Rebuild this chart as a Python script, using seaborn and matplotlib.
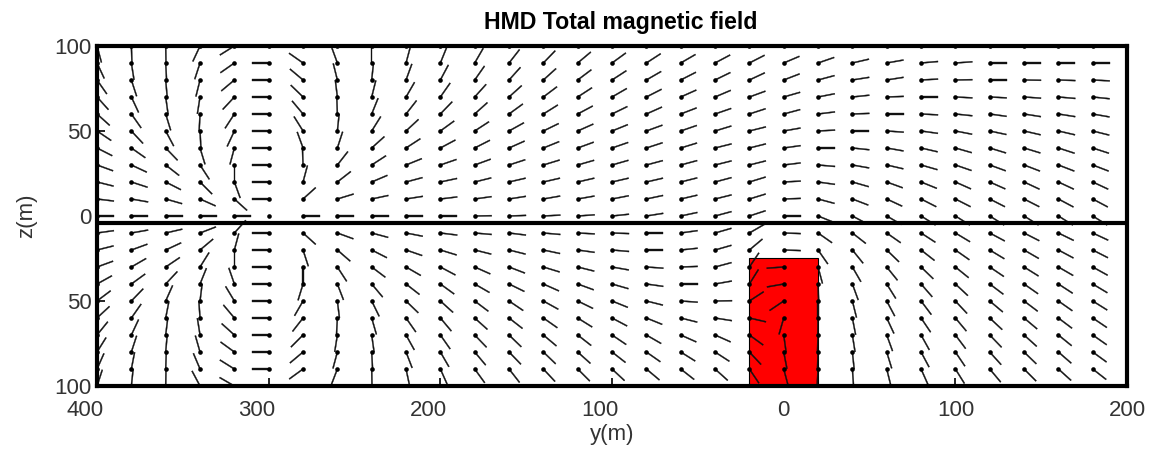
import matplotlib
matplotlib.use("Agg")
import matplotlib.pyplot as plt
import matplotlib.transforms as mtransforms
from matplotlib.patches import Rectangle
import numpy as np
import pandas as pd
import seaborn as sns

sns.set_theme(style="white")
plt.rcParams["font.family"] = ["Liberation Sans", "DejaVu Sans"]

# grid of field points (m)
y_positions = [-400, -380, -360, -340, -320, -300, -280, -260, -240, -220,
               -200, -180, -160, -140, -120, -100, -80, -60, -40, -20,
               0, 20, 40, 60, 80, 100, 120, 140, 160, 180]
z_levels = [100, 90, 80, 70, 60, 50, 40, 30, 20, 10, 0,
            -10, -20, -30, -40, -50, -60, -70, -80, -90, -100]

# field direction in degrees (0 = +y, 90 = up), one list per column, top to bottom
dir_m400 = [-75, -65, -55, -48, -42, -34, -27, -20, -14, -7, 0, 8, 14, 20, 29, 37, 43, 51, 58, 66, 72]
dir_m380 = [-88, -81, -72, -65, -55, -47, -35, -25, -18, -10, 0, 10, 20, 30, 36, 46, 55, 65, 72, 79, 84]
dir_m360 = [-89, -87, -85, -82, -73, -62, -46, -38, -27, -16, 0, 13, 25, 34, 47, 66, 79, 83, 85, 88, 89]
dir_m340 = [-115, -108, -104, -99, -93, -87, -73, -57, -45, -24, 0, 21, 40, 58, 68, 83, 94, 99, 106, 113, 118]
dir_m320 = [-148, -145, -140, -133, -123, -115, -105, -90, -70, -42, 0, 48, 75, 90, 109, 121, 130, 138, 144, 148, 150]
dir_m300 = [180, 180, 180, 180, 180, 180, 180, 180, 180, 180, np.nan, 180, 180, 180, 180, 180, 180, 180, 180, 180, 180]
dir_m280 = [148, 145, 140, 136, 130, 122, 110, 92, 75, 42, 0, -42, -72, -90, -107, -120, -128, -135, -140, -144, -147]
dir_m260 = [112, 110, 104, 97, 92, 84, 72, 52, 38, 17, 0, -20, -41, -57, -69, -83, -93, -99, -105, -111, -118]
dir_m240 = [92, 90, 84, 76, 68, 58, 42, 33, 23, 12, 0, -15, -27, -37, -50, -64, -74, -82, -87, -89, -90]
dir_m220 = [82, 75, 70, 60, 52, 43, 33, 22, 15, 9, 0, -11, -19, -30, -38, -44, -55, -61, -69, -78, -84]
dir_m200 = [74, 68, 62, 55, 46, 36, 28, 19, 12, 7, 0, -7, -17, -28, -36, -42, -50, -55, -60, -66, -72]
dir_m180 = [64, 60, 55, 48, 42, 33, 27, 20, 14, 8, 1, -5, -14, -24, -30, -37, -42, -46, -50, -54, -58]
dir_m160 = [56, 52, 48, 42, 36, 29, 24, 18, 13, 9, 2, -7, -14, -21, -26, -34, -38, -44, -46, -52, -56]
dir_m140 = [50, 46, 42, 37, 32, 26, 22, 17, 13, 10, 3, -5, -12, -17, -24, -29, -35, -40, -44, -47, -50]
dir_m120 = [44, 40, 37, 33, 28, 24, 20, 16, 13, 10, 4, -3, -8, -14, -20, -26, -32, -38, -42, -45, -48]
dir_m100 = [40, 36, 33, 30, 26, 22, 19, 16, 13, 11, 6, -2, -5, -10, -16, -22, -28, -34, -38, -43, -46]
dir_m080 = [36, 33, 30, 27, 24, 20, 18, 15, 13, 12, 9, 0, 0, -4, -8, -14, -22, -30, -35, -40, -43]
dir_m060 = [33, 30, 27, 24, 21, 19, 17, 15, 14, 13, 12, 8, 6, 2, 0, -4, -14, -24, -32, -38, -42]
dir_m040 = [30, 28, 26, 23, 19, 17, 14, 14, 15, 14, 15, 16, 16, 15, 10, 1, -9, -24, -33, -42, -50]
dir_m020 = [29, 27, 25, 20, 18, 14, 14, 14, 17, 17, 18, 30, 40, 56, 58, 33, -13, -36, -47, -56, -62]
dir_p000 = [25, 23, 21, 16, 15, 10, 8, 7, 3, 2, 0, -2, -2, 184, 190, 214, 254, 278, 281, 285, 287]
dir_p020 = [22, 19, 15, 11, 7, 3, 0, -5, -8, -15, -22, -35, -55, -75, -88, -90, -91, -92, -92, -93, -93]
dir_p040 = [16, 13, 9, 6, 2, 0, -6, -10, -16, -21, -28, -38, -51, -60, -70, -76, -79, -81, -84, -86, -87]
dir_p060 = [12, 10, 9, 2, 0, -4, -10, -13, -20, -25, -30, -35, -44, -51, -58, -62, -65, -70, -73, -76, -78]
dir_p080 = [7, 5, 3, 0, -3, -8, -13, -16, -22, -27, -32, -33, -38, -44, -49, -53, -56, -61, -62, -66, -68]
dir_p100 = [5, 4, 1, -3, -6, -11, -16, -19, -24, -27, -32, -31, -35, -39, -43, -47, -50, -53, -56, -58, -60]
dir_p120 = [2, 0, 0, -3, -8, -12, -17, -20, -24, -27, -32, -28, -31, -34, -37, -40, -43, -46, -48, -50, -52]
dir_p140 = [1, 0, -1, -4, -9, -13, -17, -21, -25, -27, -32, -27, -30, -32, -35, -37, -40, -42, -44, -45, -47]
dir_p160 = [1, 0, -2, -5, -9, -13, -18, -21, -25, -28, -32, -26, -28, -30, -33, -35, -37, -39, -41, -42, -44]
dir_p180 = [1, 0, -3, -6, -10, -14, -18, -21, -25, -28, -32, -25, -27, -29, -31, -32, -34, -35, -36, -38, -40]

columns = [dir_m400, dir_m380, dir_m360, dir_m340, dir_m320, dir_m300, dir_m280, dir_m260,
           dir_m240, dir_m220, dir_m200, dir_m180, dir_m160, dir_m140, dir_m120, dir_m100,
           dir_m080, dir_m060, dir_m040, dir_m020, dir_p000, dir_p020, dir_p040, dir_p060,
           dir_p080, dir_p100, dir_p120, dir_p140, dir_p160, dir_p180]

# conductive body and interface
body_y = [-20, 20]
body_z = [-100, -25]
interface_z = -4

x_ticks = [-400, -300, -200, -100, 0, 100, 200]
x_ticklabels = ["400", "300", "200", "100", "0", "100", "200"]
z_ticks = [100, 50, 0, -50, -100]
z_ticklabels = ["100", "50", "0", "50", "100"]

records = []
for y, col in zip(y_positions, columns):
    for z, ang in zip(z_levels, col):
        records.append({"y": y, "z": z, "angle": ang})
df = pd.DataFrame(records)
seg = df.dropna(subset=["angle"])
u = np.cos(np.deg2rad(seg["angle"].to_numpy()))
v = np.sin(np.deg2rad(seg["angle"].to_numpy()))

fig, ax = plt.subplots(figsize=(11.51, 4.49), dpi=100)
fig.subplots_adjust(left=0.0843, right=0.9792, bottom=0.1403, top=0.8976)

ax.add_patch(Rectangle((body_y[0], body_z[0]), body_y[1] - body_y[0], body_z[1] - body_z[0],
                       facecolor="#ff0000", edgecolor="black", linewidth=0.8, zorder=1))

ax.quiver(seg["y"], seg["z"], u, v, pivot="tail", angles="uv", scale_units="inches",
          scale=1 / 0.17, units="dots", width=1.2, headwidth=0, headlength=0,
          headaxislength=0, minlength=0, color="#111111", linewidth=0.25,
          edgecolor="#111111", antialiased=True, zorder=3)
sns.scatterplot(data=df, x="y", y="z", color="black", s=11, linewidth=0, ax=ax, zorder=4)

ax.axhline(interface_z, color="black", linewidth=3, zorder=5)

ax.set_xlim(-400, 200)
ax.set_ylim(-100, 100)
ax.set_xticks(x_ticks)
ax.set_xticklabels(x_ticklabels)
ax.set_yticks(z_ticks)
ax.set_yticklabels(z_ticklabels)
ax.tick_params(direction="in", length=6, width=1.2, color="black", labelcolor="#333333",
               labelsize=16, bottom=True, left=True)
ax.tick_params(axis="x", pad=10)
ax.tick_params(axis="y", pad=4)

# negative-side labels sit a little left of their ticks in the original
shift = mtransforms.ScaledTranslation(-0.12, 0, fig.dpi_scale_trans)
for tick, lab in zip(x_ticks, ax.get_xticklabels()):
    if tick < 0:
        lab.set_transform(lab.get_transform() + shift)

for s in ax.spines.values():
    s.set_linewidth(3)
    s.set_color("black")
    s.set_zorder(6)

ax.set_xlabel("y(m)", fontsize=16, color="#333333", labelpad=2)
ax.set_ylabel("z(m)", fontsize=16, color="#333333", labelpad=12)
ax.set_title("HMD Total magnetic field", fontweight="bold", fontsize=16.7, pad=12,
             color="black", x=0.508)

fig.savefig("out.png", dpi=100)
